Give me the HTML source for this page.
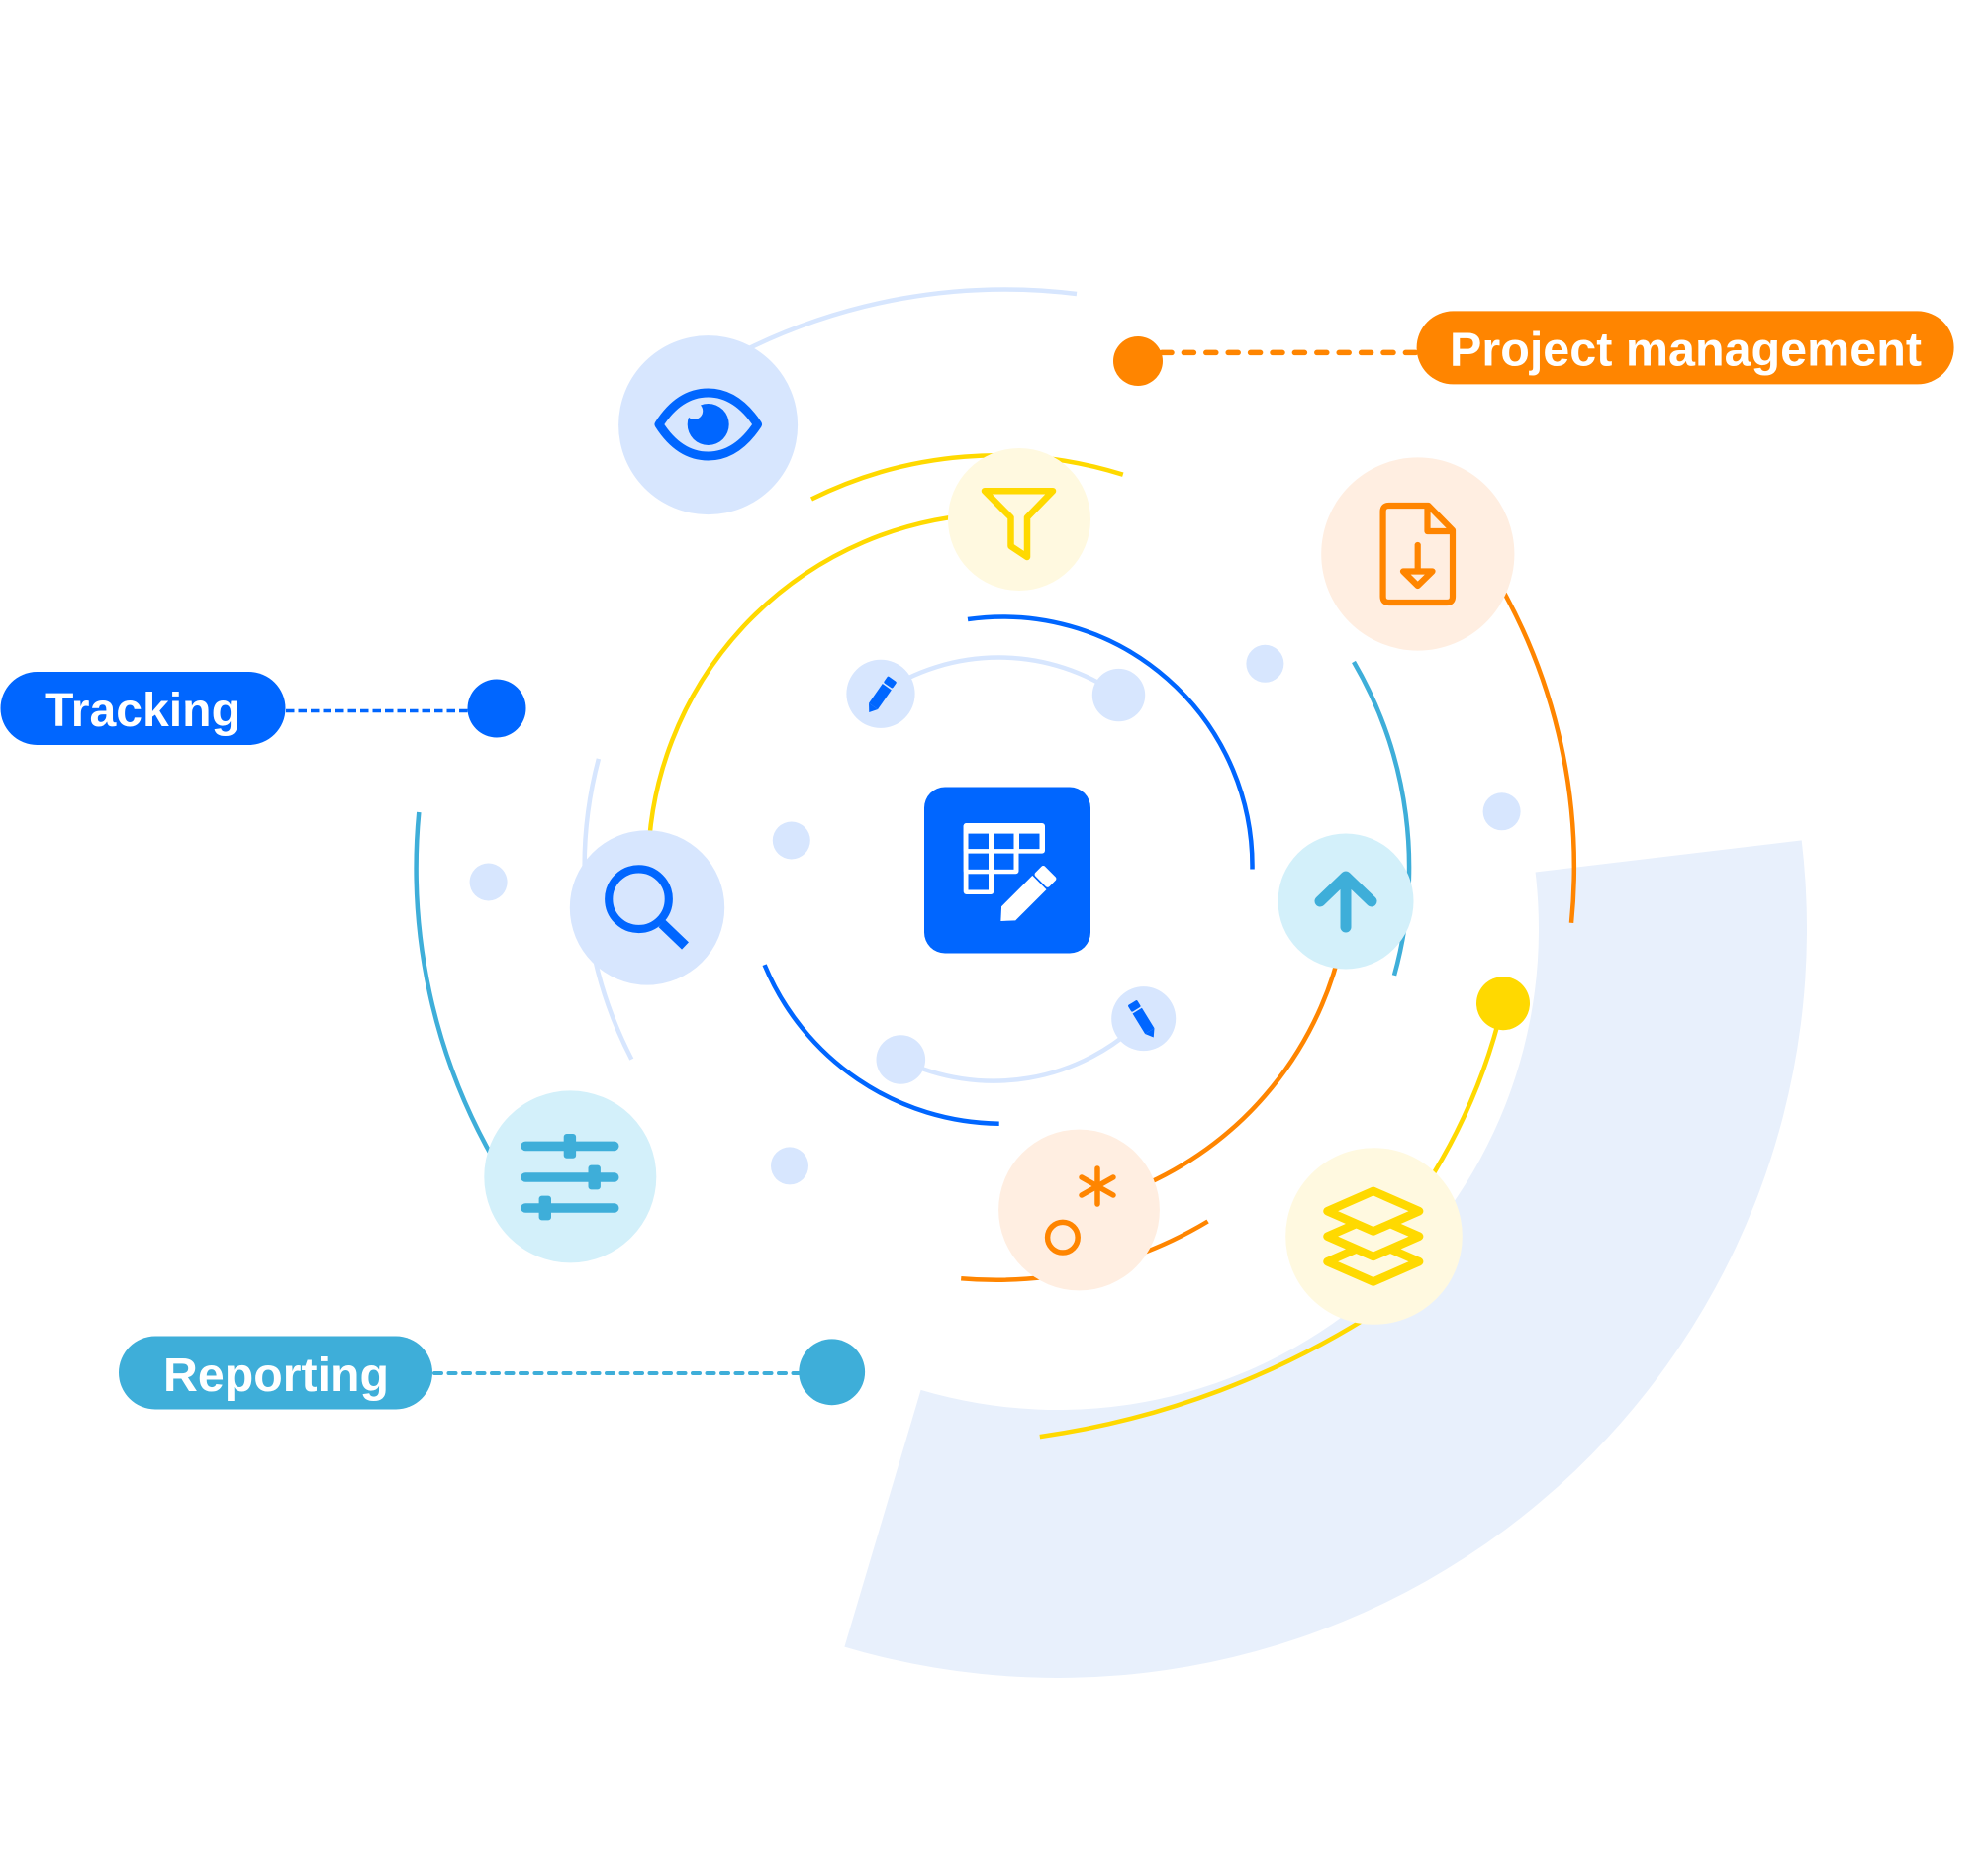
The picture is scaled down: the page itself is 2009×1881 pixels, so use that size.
<!DOCTYPE html>
<html>
<head>
<meta charset="utf-8">
<style>
  html, body { margin: 0; padding: 0; background: #ffffff; }
  svg { display: block; }
  .lbl { font-family: "Liberation Sans", Arial, sans-serif; font-weight: bold; font-size: 48px; fill: #ffffff; }
</style>
</head>
<body>
<svg width="2009" height="1881" viewBox="0 0 2009 1881" xmlns="http://www.w3.org/2000/svg">
  <rect x="0" y="0" width="2009" height="1881" fill="#ffffff"/>

  <!-- big light annular sector -->
  <path d="M1820.7,849.4 A757,757 0 0 1 853.4,1664.6 L930.6,1404.9 A486,486 0 0 0 1551.6,881.5 Z" fill="#E8F0FC"/>

  <!-- arcs -->
  <g fill="none" stroke-width="4.5" stroke-linecap="butt">
    <path d="M745,358 A590,590 0 0 1 1088,297" stroke="#D7E6FE"/>
    <path d="M820,504.5 A423,423 0 0 1 1134.8,479.7" stroke="#FFD900"/>
    <path d="M655,878 A359,359 0 0 1 1001.5,519.2" stroke="#FFD900"/>
    <path d="M978,626 A252,252 0 0 1 1265.5,878.5" stroke="#0066FF"/>
    <path d="M772.6,975.2 A260,260 0 0 0 1009.7,1135.7" stroke="#0066FF"/>
    <path d="M890,701.3 A212,212 0 0 1 1130.5,702.6" stroke="#D7E6FE"/>
    <path d="M910.3,1071 A214,214 0 0 0 1155.7,1029.6" stroke="#D7E6FE"/>
    <path d="M1368,669 A410,410 0 0 1 1409,985.8" stroke="#3EAED9"/>
    <path d="M1356.4,950.8 A350,350 0 0 1 1133.7,1206.9" stroke="#FF8500"/>
    <path d="M1220.6,1234.5 A415,415 0 0 1 971.2,1292.2" stroke="#FF8500"/>
    <path d="M604.9,766.9 A423,423 0 0 0 638.3,1070.6" stroke="#D7E6FE"/>
    <path d="M423.3,821 A593,593 0 0 0 500.4,1174.5" stroke="#3EAED9"/>
    <path d="M1498.8,563.2 A578,578 0 0 1 1588,932.8" stroke="#FF8500"/>
    <path d="M1519,1014 A590,590 0 0 1 1440,1200" stroke="#FFD900"/>
    <path d="M1400,1320 A850,850 0 0 1 1050.8,1452.1" stroke="#FFD900"/>
  </g>

  <!-- dashed connectors -->
  <line x1="289" y1="718.5" x2="478" y2="718.5" stroke="#0066FF" stroke-width="3.4" stroke-dasharray="8.5 4"/>
  <line x1="1174" y1="356.4" x2="1432" y2="356.4" stroke="#FF8500" stroke-width="5.5" stroke-dasharray="10 12.4" stroke-linecap="round"/>
  <line x1="439" y1="1388" x2="810" y2="1388" stroke="#3EAED9" stroke-width="4" stroke-dasharray="7 7.5" stroke-linecap="round"/>

  <!-- connector dots -->
  <circle cx="502" cy="716" r="29.5" fill="#0066FF"/>
  <circle cx="1150" cy="365" r="25" fill="#FF8500"/>
  <circle cx="1519" cy="1014.2" r="27" fill="#FFD900"/>
  <circle cx="840.7" cy="1386.8" r="33.4" fill="#3EAED9"/>

  <!-- small light dots -->
  <g fill="#D7E6FE">
    <circle cx="1130.5" cy="702.6" r="26.7"/>
    <circle cx="1278.4" cy="670.8" r="19"/>
    <circle cx="799.8" cy="849.5" r="19"/>
    <circle cx="493.6" cy="891.5" r="19"/>
    <circle cx="1517.6" cy="820.3" r="19"/>
    <circle cx="910.3" cy="1071" r="24.8"/>
    <circle cx="798" cy="1178.4" r="19"/>
  </g>

  <!-- node circles -->
  <circle cx="715.6" cy="429.6" r="90.5" fill="#D7E6FE"/>
  <circle cx="1030" cy="525" r="72" fill="#FFF9E0"/>
  <circle cx="1432.8" cy="560" r="97.6" fill="#FFEEE1"/>
  <circle cx="654" cy="917.4" r="78.2" fill="#D7E6FE"/>
  <circle cx="1360" cy="911" r="68.5" fill="#D3F0FA"/>
  <circle cx="576.3" cy="1189.4" r="87" fill="#D3F0FA"/>
  <circle cx="1090.5" cy="1223" r="81.4" fill="#FFEEE1"/>
  <circle cx="1388.5" cy="1249.5" r="89.3" fill="#FFF9E0"/>
  <circle cx="890" cy="701.3" r="34.6" fill="#D7E6FE"/>
  <circle cx="1155.7" cy="1029.6" r="32.5" fill="#D7E6FE"/>

  <!-- eye icon -->
  <path d="M666,429 C680,407 697,397 715.6,397 C734,397 751,407 765.5,429 C751,451 734,461 715.6,461 C697,461 680,451 666,429 Z" fill="none" stroke="#0066FF" stroke-width="9" stroke-linejoin="round"/>
  <circle cx="715.7" cy="429" r="21" fill="#0066FF"/>
  <circle cx="701.6" cy="415.3" r="8.6" fill="#D7E6FE"/>

  <!-- funnel icon -->
  <path d="M995,496.2 H1064 L1038,523 V563 L1021.5,552 V523 Z" fill="none" stroke="#FFD900" stroke-width="6.5" stroke-linejoin="round"/>

  <!-- file download icon -->
  <g fill="none" stroke="#FF8500" stroke-width="6.2" stroke-linejoin="round" stroke-linecap="round">
    <path d="M1403.6,511 H1443.5 L1468,536 V603 Q1468,609 1462,609 H1403.6 Q1397.6,609 1397.6,603 V517 Q1397.6,511 1403.6,511 Z"/>
    <path d="M1442.5,513 V537 H1466"/>
    <line x1="1432.7" y1="551" x2="1432.7" y2="576"/>
    <path d="M1418,577.5 H1447.5 L1432.7,592 Z"/>
  </g>

  <!-- search icon -->
  <circle cx="645.5" cy="908.7" r="30.3" fill="none" stroke="#0066FF" stroke-width="8.2"/>
  <line x1="669" y1="933.5" x2="692.5" y2="956" stroke="#0066FF" stroke-width="10"/>

  <!-- upload arrow -->
  <g fill="none" stroke="#3EAED9" stroke-width="11" stroke-linecap="round" stroke-linejoin="round">
    <path d="M1334,911 L1360,886 L1386,911"/>
    <line x1="1360" y1="889" x2="1360" y2="937"/>
  </g>

  <!-- sliders -->
  <g stroke="#3EAED9" stroke-width="9.6" stroke-linecap="round">
    <line x1="531" y1="1158.4" x2="620.7" y2="1158.4"/>
    <line x1="531" y1="1190" x2="620.7" y2="1190"/>
    <line x1="531" y1="1221" x2="620.7" y2="1221"/>
  </g>
  <g fill="#3EAED9">
    <rect x="569.7" y="1146" width="12.4" height="24.8" rx="3"/>
    <rect x="594.5" y="1177.6" width="12.4" height="24.8" rx="3"/>
    <rect x="544.6" y="1208.6" width="12.4" height="24.8" rx="3"/>
  </g>

  <!-- asterisk + circle -->
  <g stroke="#FF8500" stroke-width="5.5" stroke-linecap="round" fill="none">
    <line x1="1109" y1="1181" x2="1109" y2="1217"/>
    <line x1="1093" y1="1190" x2="1125" y2="1208"/>
    <line x1="1093" y1="1208" x2="1125" y2="1190"/>
    <circle cx="1073.9" cy="1250.7" r="15.3"/>
  </g>

  <!-- layers -->
  <g fill="#FFF9E0" stroke="#FFD900" stroke-width="8.5" stroke-linejoin="round">
    <path d="M1341.5,1275.2 L1387.8,1254.9 L1434.1,1275.2 L1387.8,1295.5 Z"/>
    <path d="M1341.5,1249.7 L1387.8,1229.4 L1434.1,1249.7 L1387.8,1270 Z"/>
    <path d="M1341.5,1224.2 L1387.8,1203.9 L1434.1,1224.2 L1387.8,1244.5 Z"/>
  </g>

  <!-- small pencils -->
  <g transform="translate(890,703.2) rotate(-55)" fill="#0066FF">
    <polygon points="-20.5,0 -13,-5.5 -13,5.5"/>
    <rect x="-13" y="-5.5" width="24" height="11"/>
    <rect x="12.6" y="-5.5" width="8" height="11" rx="1.5"/>
  </g>
  <g transform="translate(1155,1031) rotate(-121.6)" fill="#0066FF">
    <polygon points="-20.5,0 -13,-5.5 -13,5.5"/>
    <rect x="-13" y="-5.5" width="24" height="11"/>
    <rect x="12.6" y="-5.5" width="8" height="11" rx="1.5"/>
  </g>

  <!-- central box -->
  <rect x="934" y="795.5" width="168" height="168" rx="21" fill="#0066FF"/>
  <g fill="#ffffff">
    <rect x="973.7" y="832" width="82.3" height="30.6" rx="3"/>
    <rect x="973.7" y="832" width="55.8" height="51.3" rx="3"/>
    <rect x="973.7" y="832" width="30.6" height="72" rx="3"/>
  </g>
  <g fill="#0066FF">
    <rect x="978.5" y="842.6" width="20.5" height="15.5"/>
    <rect x="1004" y="842.6" width="20.5" height="15.5"/>
    <rect x="1030" y="842.6" width="20.5" height="15.5"/>
    <rect x="978.5" y="862.6" width="20.5" height="16.2"/>
    <rect x="1004" y="862.6" width="20.5" height="16.2"/>
    <rect x="978.5" y="883.3" width="20.5" height="16.2"/>
  </g>
  <g transform="translate(1036.4,906) rotate(-45)" fill="#ffffff">
    <polygon points="-35.4,0 -24.4,-10 -24.4,10"/>
    <rect x="-24.6" y="-10" width="44.4" height="20"/>
    <rect x="21.5" y="-10" width="13.8" height="20" rx="2.5"/>
  </g>

  <!-- labels -->
  <rect x="1431.6" y="314.4" width="543" height="74" rx="37" fill="#FF8500"/>
  <text class="lbl" x="1465" y="369.5" textLength="477" lengthAdjust="spacingAndGlyphs">Project management</text>

  <rect x="0.5" y="679" width="288" height="74" rx="37" fill="#0066FF"/>
  <text class="lbl" x="45" y="734" textLength="198" lengthAdjust="spacingAndGlyphs">Tracking</text>

  <rect x="120" y="1350.5" width="317" height="74" rx="37" fill="#3EAED9"/>
  <text class="lbl" x="165" y="1406" textLength="228" lengthAdjust="spacingAndGlyphs">Reporting</text>
</svg>
</body>
</html>
